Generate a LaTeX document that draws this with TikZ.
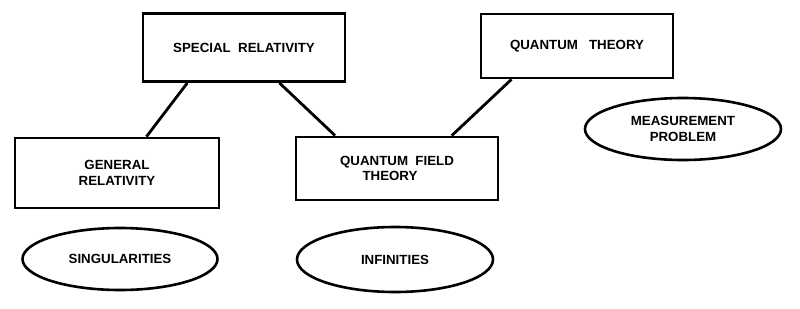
\documentclass[tikz,border=0pt]{standalone}
\usepackage{fontspec}
\setmainfont{Liberation Sans}
\usetikzlibrary{shapes.geometric}

\begin{document}
\begin{tikzpicture}[x=1pt,y=-1pt,
  theory/.style={draw,line width=2.8pt,rectangle,align=center,
    font=\fontsize{13.3}{15.5}\selectfont\bfseries,inner sep=0pt},
  issue/.style={draw,line width=2.6pt,ellipse,align=center,
    font=\fontsize{13.3}{15.5}\selectfont\bfseries,inner sep=0pt},
  link/.style={line width=2.8pt}]
\useasboundingbox (0,0) rectangle (800,308);
\node[theory,minimum width=202pt,minimum height=68pt] (sr) at (244,47.5) {SPECIAL\ \ RELATIVITY};
\node[theory,minimum width=192pt,minimum height=64pt] (qt) at (577,46) {QUANTUM\ \ \ THEORY};
\node[theory,minimum width=204pt,minimum height=70pt] (gr) at (117,173) {GENERAL\\RELATIVITY};
\node[theory,minimum width=202pt,minimum height=63pt] (qft) at (397,168.5) {QUANTUM\ \ FIELD\\THEORY\hspace*{14pt}};
\node[issue,minimum width=196pt,minimum height=62pt] (mp) at (683,129) {MEASUREMENT\\PROBLEM};
\node[issue,minimum width=195pt,minimum height=62pt] (sing) at (120,259) {SINGULARITIES};
\node[issue,minimum width=196pt,minimum height=65pt] (inf) at (395,259.5) {INFINITIES};
\draw[link] (sr.212)--(gr.51);
\draw[link] (sr.-45)--(qft.152);
\draw[link] (qt.207)--(qft.31);
\end{tikzpicture}
\end{document}
